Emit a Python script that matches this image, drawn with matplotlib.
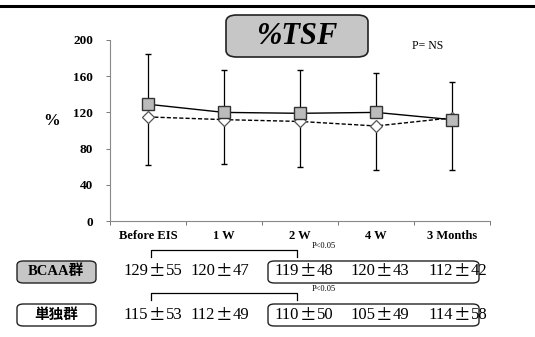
import numpy as np
import matplotlib.pyplot as plt
from matplotlib.patches import FancyBboxPatch
from matplotlib.lines import Line2D

# data
timepoints = ['Before EIS', '1 W', '2 W', '4 W', '3 Months']
bcaa_mean = [129, 120, 119, 120, 112]
bcaa_sd = [55, 47, 48, 43, 42]
single_mean = [115, 112, 110, 105, 114]
single_sd = [53, 49, 50, 49, 58]
group_names = ['BCAA群', '単独群']

W, H = 535, 337
fig = plt.figure(figsize=(W / 100, H / 100), dpi=100)
fig.patch.set_facecolor('white')

def fx(px):
    return px / W

def fy(py):
    return 1 - py / H

serif = ['Liberation Serif', 'DejaVu Serif']
cjk = ['Liberation Serif', 'Noto Sans CJK JP']
jp = ['Noto Sans CJK JP']

# top rule
fig.add_artist(Line2D([0, 1], [fy(6), fy(6)], transform=fig.transFigure, color='black', lw=2.2))

ax = fig.add_axes([fx(110), fy(221), fx(380), 181 / H])
x = np.arange(len(timepoints))

ax.plot(x, single_mean, ls=(0, (3, 1.5)), color='black', lw=1.0, marker='D', ms=6,
        mfc='white', mec='#555555', mew=0.9, zorder=3)
ax.errorbar(x, single_mean, yerr=[single_sd, np.zeros(len(x))], fmt='none',
            ecolor='black', elinewidth=0.9, capsize=2.5, zorder=2)
ax.plot(x, bcaa_mean, ls='-', color='black', lw=1.0, marker='s', ms=8,
        mfc='#bbbbbb', mec='#333333', mew=1.0, zorder=4)
ax.errorbar(x, bcaa_mean, yerr=[np.zeros(len(x)), bcaa_sd], fmt='none',
            ecolor='black', elinewidth=0.9, capsize=2.5, zorder=2)

ax.set_xlim(-0.5, len(x) - 0.5)
ax.set_ylim(0, 200)
ax.set_yticks([0, 40, 80, 120, 160, 200])
ax.set_yticklabels(['0', '40', '80', '120', '160', '200'], fontfamily=serif,
                   fontweight='bold', fontsize=9.5)
ax.set_xticks(np.arange(-0.5, len(x), 1.0))
ax.set_xticklabels([])
for i, lab in enumerate(timepoints):
    ax.text(i, -0.05, lab, transform=ax.get_xaxis_transform(), ha='center', va='top',
            fontfamily=serif, fontweight='bold', fontsize=9)
ax.tick_params(axis='both', length=3, width=0.7, color='#777777', pad=9)
for s in ['top', 'right']:
    ax.spines[s].set_visible(False)
for s in ['left', 'bottom']:
    ax.spines[s].set_color('#888888')
    ax.spines[s].set_linewidth(0.8)

fig.text(fx(52), fy(121), '%', fontfamily=serif, fontweight='bold', fontsize=12,
         ha='center', va='center')

# title box
tb = FancyBboxPatch((fx(226), fy(57)), fx(142), 42 / H, boxstyle='round,pad=0,rounding_size=0.02',
                    transform=fig.transFigure, facecolor='#c6c6c6', edgecolor='#222222', lw=1.2)
fig.add_artist(tb)
fig.text(fx(297), fy(36), '%TSF', fontfamily=serif, fontweight='bold', style='italic',
         fontsize=22, ha='center', va='center')
fig.text(fx(428), fy(46), 'P= NS', fontfamily=serif, fontsize=8.5, ha='center', va='center')

# table below
col_x = [154, 221, 305, 381, 459]
row_y = [271, 315]
box_y = [(261, 283), (304, 326)]
for r, (means, sds, name) in enumerate([(bcaa_mean, bcaa_sd, group_names[0]),
                                         (single_mean, single_sd, group_names[1])]):
    y0, y1 = box_y[r]
    gb = FancyBboxPatch((fx(17), fy(y1)), fx(79), (y1 - y0) / H,
                        boxstyle='round,pad=0,rounding_size=0.012', transform=fig.transFigure,
                        facecolor='#c6c6c6' if r == 0 else 'white', edgecolor='#222222', lw=1.0)
    fig.add_artist(gb)
    fig.text(fx(56), fy(row_y[r]), name, family=cjk, fontweight='bold', fontsize=10.5,
             ha='center', va='center')
    for c in range(len(means)):
        cx = col_x[c] + 3
        fig.text(fx(cx - 9), fy(row_y[r]), str(means[c]), fontfamily=serif,
                 fontsize=12, ha='right', va='center')
        fig.text(fx(cx), fy(row_y[r]), '±', family=jp, fontsize=12, ha='center', va='center')
        fig.text(fx(cx + 9), fy(row_y[r]), str(sds[c]), fontfamily=serif,
                 fontsize=12, ha='left', va='center')
    # box round 2W..3M
    vb = FancyBboxPatch((fx(268), fy(y1)), fx(211), (y1 - y0) / H,
                        boxstyle='round,pad=0,rounding_size=0.012', transform=fig.transFigure,
                        facecolor='none', edgecolor='#222222', lw=1.0)
    fig.add_artist(vb)
    # bracket Before EIS -> 2W
    by = y0 - 11
    fig.add_artist(Line2D([fx(151), fx(151), fx(297), fx(297)],
                          [fy(by + 7), fy(by), fy(by), fy(by + 7)],
                          transform=fig.transFigure, color='black', lw=0.9))
    fig.text(fx(324), fy(by - 4), 'P<0.05', fontfamily=serif, fontsize=6,
             ha='center', va='center')

fig.savefig('out.png', dpi=100)
